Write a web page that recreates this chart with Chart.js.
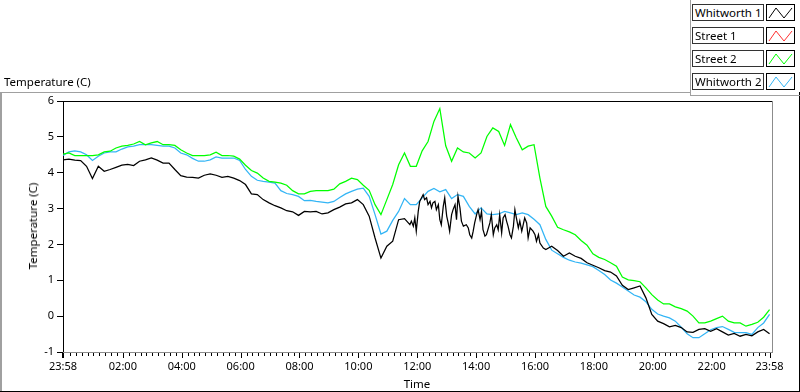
<!DOCTYPE html>
<html><head><meta charset="utf-8">
<script src="https://cdn.jsdelivr.net/npm/chart.js@4"></script>
<style>
html,body{margin:0;padding:0;background:#fff;}
#wrap{position:relative;width:800px;height:392px;overflow:hidden;font-family:'Noto Sans',sans-serif;background:#fff;}
#c{position:absolute;left:0;top:0;}
.t{position:absolute;font-size:11.5px;color:#000;white-space:nowrap;line-height:14px;}
.ln{position:absolute;}
.lbox{position:absolute;left:692px;width:68px;height:15px;border:1px solid #333;background:#fff;font-size:11.5px;line-height:15px;padding-left:2px;box-sizing:content-box;white-space:nowrap;overflow:hidden;}
.ibox{position:absolute;left:766px;width:27px;height:15px;border:1px solid #000;background:#fff;}
.ibox svg{position:absolute;left:0;top:0;}
</style></head>
<body>
<div id="wrap">
<canvas id="c" width="800" height="392"></canvas>
<div class="t" style="left:4px;top:75px;">Temperature (C)</div>
<div class="t" style="left:33px;top:226px;transform:translate(-50%,-50%) rotate(-90deg);">Temperature (C)</div>
<div class="t" style="left:417px;top:377px;transform:translateX(-50%);">Time</div>
<div class="ln" style="left:0;top:92px;width:690px;height:1px;background:#a0a0a0;"></div>
<div class="ln" style="left:0;top:92px;width:2px;height:300px;background:#a0a0a0;"></div>
<div class="ln" style="left:0;top:391px;width:800px;height:1px;background:#000;"></div>
<div class="ln" style="left:799px;top:92px;width:1px;height:300px;background:#000;"></div>
<div class="ln" style="left:690px;top:0;width:1px;height:96px;background:#a0a0a0;"></div>
<div class="ln" style="left:690px;top:95px;width:110px;height:1px;background:#a0a0a0;"></div>
<div id="legend"></div>
</div>
<script>
// ---- data ----
const seriesNames = ['Whitworth 1', 'Street 1', 'Street 2', 'Whitworth 2'];
const seriesColors = ['#000000', '#ff3030', '#00ff00', '#33b5f5'];
const sampleStepMinutes = 12; // samples every 12 minutes starting at 23:58
const whitworth1 = [
 4.36,4.38,4.35,4.34,4.18,3.84,4.18,4.04,4.09,4.15,
 4.21,4.23,4.20,4.32,4.36,4.41,4.35,4.27,4.27,4.09,
 3.92,3.88,3.87,3.85,3.93,3.97,3.93,3.87,3.90,3.85,
 3.78,3.67,3.41,3.39,3.25,3.16,3.08,3.02,2.94,2.91,
 2.81,2.92,2.91,2.92,2.85,2.88,2.97,3.04,3.13,3.16,
 3.25,3.11,2.79,2.18,1.62,1.95,2.09,2.69,2.72,2.55,
 2.46,3.34,3.11,3.18,2.69,3.11,2.51,3.30,2.51,2.32,
 2.65,2.92,2.27,2.74,2.51,2.79,2.23,2.83,2.41,2.18,
 2.32,2.09,1.86,1.95,1.83,1.67,1.76,1.67,1.61,1.49,
 1.42,1.35,1.27,1.23,1.12,0.86,0.74,0.79,0.84,0.51,
 0.05,-0.14,-0.21,-0.30,-0.26,-0.32,-0.44,-0.45,-0.37,-0.35,
 -0.42,-0.35,-0.44,-0.53,-0.48,-0.56,-0.51,-0.55,-0.44,-0.37,-0.49
];
// finer readings of Whitworth 1 in its noisy midday stretch: [minutes since 23:58, value]
const whitworth1DetailMinutes = [
 707,710,714,717,720,724,727,734,737,741,744,748,751,754,758,761,765,768,771,775,
 778,782,785,788,792,795,799,802,805,809,812,816,822,826,829,833,836,839,843,846,
 850,853,856,860,863,870,873,877,880,884,887,890,894,897,901,904,907,911,914,918,
 921,924,928,931,935,938,941,945,948,952,958,962,965,969,972,979
];
const whitworth1DetailValues = [
 2.55,2.65,2.51,2.74,2.37,2.92,3.20,3.39,3.25,3.30,3.11,3.20,3.02,3.16,3.20,2.97,3.11,2.69,2.55,3.06,
 3.30,2.79,2.60,2.37,2.83,2.97,3.11,2.69,3.34,3.02,2.65,2.51,2.55,2.46,2.27,2.18,2.37,2.60,2.83,2.97,
 2.69,2.92,2.41,2.23,2.27,2.60,2.83,2.27,2.46,2.55,2.41,2.83,2.32,2.74,2.83,2.65,2.51,2.27,2.18,2.51,
 2.97,2.74,2.46,2.65,2.37,2.55,2.74,2.60,2.18,2.46,2.37,2.27,2.09,2.27,2.04,1.90
];
const street1 = [];
const street2 = [
 4.52,4.55,4.48,4.48,4.48,4.48,4.50,4.58,4.60,4.69,
 4.74,4.76,4.80,4.87,4.78,4.83,4.87,4.78,4.78,4.76,
 4.64,4.55,4.48,4.48,4.48,4.50,4.57,4.48,4.48,4.46,
 4.38,4.21,4.06,3.99,3.85,3.76,3.74,3.71,3.65,3.50,
 3.41,3.41,3.48,3.50,3.50,3.50,3.54,3.69,3.76,3.85,
 3.81,3.65,3.51,3.11,2.83,3.25,3.67,4.22,4.55,4.18,
 4.18,4.61,4.87,5.43,5.79,4.75,4.32,4.69,4.58,4.55,
 4.41,4.55,5.01,5.25,5.15,4.76,5.34,4.97,4.64,4.74,
 4.78,3.85,3.06,2.79,2.48,2.41,2.35,2.27,2.11,1.98,
 1.74,1.64,1.58,1.49,1.39,1.09,1.01,0.99,0.96,0.79,
 0.60,0.45,0.34,0.34,0.26,0.21,0.14,0.00,-0.19,-0.19,
 -0.14,-0.07,0.00,-0.14,-0.19,-0.19,-0.28,-0.23,-0.17,-0.03,0.18
];
const whitworth2 = [
 4.48,4.58,4.61,4.58,4.50,4.34,4.46,4.55,4.58,4.58,
 4.66,4.72,4.74,4.78,4.78,4.78,4.76,4.74,4.74,4.69,
 4.55,4.50,4.40,4.32,4.32,4.36,4.44,4.41,4.41,4.41,
 4.34,4.09,3.90,3.79,3.76,3.74,3.71,3.50,3.42,3.39,
 3.34,3.22,3.23,3.20,3.18,3.16,3.20,3.31,3.41,3.48,
 3.54,3.57,3.34,2.83,2.29,2.37,2.67,2.92,3.28,3.11,
 3.11,3.30,3.48,3.56,3.47,3.53,3.28,3.39,3.34,3.06,
 2.85,3.02,2.85,2.83,2.85,2.92,2.88,2.83,2.88,2.83,
 2.70,2.55,2.14,1.84,1.74,1.64,1.56,1.51,1.48,1.43,
 1.38,1.27,1.16,1.01,0.92,0.81,0.70,0.59,0.53,0.40,
 0.19,0.06,0.00,-0.05,-0.14,-0.31,-0.49,-0.60,-0.60,-0.49,
 -0.38,-0.32,-0.29,-0.37,-0.45,-0.46,-0.46,-0.51,-0.32,-0.19,0.05
];
const xTickMinutes = [0,122,242,362,482,602,722,842,962,1082,1202,1322,1440];
const xTickLabels = ['23:58','02:00','04:00','06:00','08:00','10:00','12:00','14:00','16:00','18:00','20:00','22:00','23:58'];
const yTickValues = [-1,0,1,2,3,4,5,6];

// ---- build ----
function toPoints(arr){ return arr.map((v,i)=>({x:i*sampleStepMinutes, y:v})); }
const dStart = whitworth1DetailMinutes[0], dEnd = whitworth1DetailMinutes[whitworth1DetailMinutes.length-1];
const w1Points = toPoints(whitworth1).filter(p => p.x < dStart || p.x > dEnd)
  .concat(whitworth1DetailMinutes.map((m,i)=>({x:m, y:whitworth1DetailValues[i]})))
  .sort((a,b)=>a.x-b.x);
const allPoints = [w1Points, toPoints(street1), toPoints(street2), toPoints(whitworth2)];

const minorTicks = [];
for (let m = 14; m < 1440; m += 12) if (!xTickMinutes.includes(m)) minorTicks.push(m);

const framePlugin = {
  id:'frame',
  afterDraw(chart){
    const {ctx, chartArea:a, scales} = chart;
    const x = scales.x;
    ctx.save();
    ctx.fillStyle = '#000';
    ctx.fillRect(a.left, a.top, a.right - a.left, 1);
    ctx.fillStyle = '#8c8c8c';
    ctx.fillRect(a.right, a.top, 1, a.bottom - a.top + 1);
    ctx.fillRect(a.left, a.bottom, a.right - a.left, 1);
    ctx.fillStyle = '#000';
    minorTicks.forEach(m => { const p = Math.round(x.getPixelForValue(m)); ctx.fillRect(p, a.bottom + 1, 1, 3); });
    xTickMinutes.forEach((m,i) => { const p = Math.round(x.getPixelForValue(m)); ctx.fillRect(i===0 ? p-1 : p, a.bottom + 1, i===0 ? 2 : 1, 5); });
    ctx.restore();
  }
};

Chart.defaults.font.family = "'Noto Sans', sans-serif";
Chart.defaults.font.size = 11;
Chart.defaults.color = '#000';

new Chart(document.getElementById('c'), {
  type:'line',
  data:{ datasets: allPoints.map((pts,i)=>({
    label: seriesNames[i], data: pts, borderColor: seriesColors[i], backgroundColor: seriesColors[i],
    borderWidth: 1.25, pointRadius: 0, tension: 0, fill: false
  })) },
  options:{
    responsive:false, animation:false, devicePixelRatio:1,
    layout:{ padding:{ top:101, right:28, left:0, bottom:0 } },
    plugins:{ legend:{display:false}, tooltip:{enabled:false} },
    scales:{
      x:{ type:'linear', min:0, max:1445,
        afterFit(s){ s.height = 40; },
        afterBuildTicks(s){ s.ticks = xTickMinutes.map(v=>({value:v})); },
        ticks:{ autoSkip:false, maxRotation:0, minRotation:0, padding:2, color:'#000',
          callback:(v,i)=> xTickLabels[i] },
        grid:{ display:true, drawOnChartArea:false, drawTicks:true, tickLength:6, tickColor:'rgba(0,0,0,0)' },
        border:{ display:false }
      },
      y:{ min:-1, max:6,
        afterFit(s){ s.width = 63; },
        afterBuildTicks(s){ s.ticks = yTickValues.map(v=>({value:v})); },
        ticks:{ padding:3, color:'#000' },
        grid:{ display:true, drawOnChartArea:false, drawTicks:true, tickLength:6, tickColor:'#000' },
        border:{ display:true, color:'#000', width:1 }
      }
    }
  },
  plugins:[framePlugin]
});

// legend (HTML)
const lg = document.getElementById('legend');
seriesNames.forEach((n,i)=>{
  const top = 4 + i*23;
  const b = document.createElement('div'); b.className='lbox'; b.style.top = top+'px'; b.textContent = n; lg.appendChild(b);
  const ib = document.createElement('div'); ib.className='ibox'; ib.style.top = top+'px';
  ib.innerHTML = '<svg width="27" height="15"><polyline points="2,13 9,3 17,13 25,3" fill="none" stroke="'+seriesColors[i]+'" stroke-width="1"/></svg>';
  lg.appendChild(ib);
});
</script>
</body></html>
